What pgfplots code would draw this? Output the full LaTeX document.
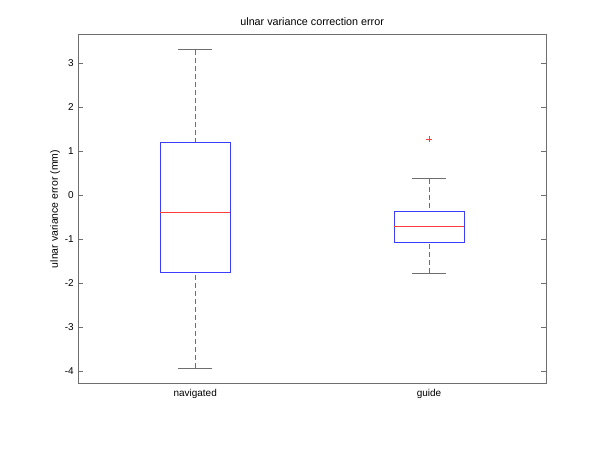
\documentclass[border=0pt]{standalone}
\usepackage{fontspec}
\setmainfont{Liberation Sans}
\usepackage{pgfplots}
\pgfplotsset{compat=1.18}
\usepgfplotslibrary{statistics}

\definecolor{framegray}{RGB}{110,110,110}
\definecolor{boxblue}{RGB}{60,60,255}
\definecolor{medred}{RGB}{255,60,60}

\pgfplotsset{
  mlbox/.style={
    solid, color=boxblue, line width=0.6bp,
    boxplot/draw direction=y,
    boxplot/every box/.style={draw=boxblue, solid, line width=0.6bp},
    boxplot/every median/.style={draw=medred, solid, line width=0.6bp},
    boxplot/every whisker/.style={draw=framegray, solid, line width=0.6bp},
    boxplot/box extend=0.3,
    boxplot/whisker extend=0.146,
    boxplot/draw/lower whisker/.code={
      \draw[framegray, line width=0.6bp, dash pattern=on 5bp off 3bp]
        (boxplot cs:\pgfplotsboxplotvalue{lower whisker},0) --
        (boxplot cs:\pgfplotsboxplotvalue{lower quartile},0);
      \draw[framegray, line width=0.6bp]
        (boxplot whisker cs:\pgfplotsboxplotvalue{lower whisker},0) --
        (boxplot whisker cs:\pgfplotsboxplotvalue{lower whisker},1);
    },
    boxplot/draw/upper whisker/.code={
      \draw[framegray, line width=0.6bp, dash pattern=on 5bp off 3bp]
        (boxplot cs:\pgfplotsboxplotvalue{upper whisker},0) --
        (boxplot cs:\pgfplotsboxplotvalue{upper quartile},0);
      \draw[framegray, line width=0.6bp]
        (boxplot whisker cs:\pgfplotsboxplotvalue{upper whisker},0) --
        (boxplot whisker cs:\pgfplotsboxplotvalue{upper whisker},1);
    },
  },
}

\begin{document}
\begin{tikzpicture}[font=\fontsize{10}{12}\selectfont]
\begin{axis}[
  scale only axis,
  width=467.7bp, height=349.4bp,
  xmin=0.5, xmax=2.5,
  ymin=-4.29, ymax=3.65,
  xtick={1,2}, xticklabels={navigated,guide},
  ytick={-4,-3,-2,-1,0,1,2,3},
  ytick pos=both,
  tick align=inside,
  major tick length=5bp,
  x tick style={draw=none},
  y tick style={framegray, line width=0.6bp},
  axis line style={framegray, line width=0.7bp},
  /pgf/number format/assume math mode=true,
  yticklabel style={xshift=-1bp},
  xticklabel style={yshift=-2bp},
  title={\fontsize{10.8}{12}\selectfont ulnar variance correction error},
  title style={yshift=-1bp},
  ylabel={\fontsize{10.5}{12}\selectfont ulnar variance error (mm)},
  ylabel style={yshift=-2bp},
]
\addplot[mlbox, boxplot prepared={draw position=1,
  median=-0.386, upper quartile=1.20, lower quartile=-1.75,
  upper whisker=3.30, lower whisker=-3.93}]
  coordinates {};
\addplot[mlbox, boxplot prepared={draw position=2,
  median=-0.71, upper quartile=-0.364, lower quartile=-1.07,
  upper whisker=0.37, lower whisker=-1.77}]
  coordinates {};
% outlier of the guide group (value 1.27), drawn as a red plus
\addplot[medred, line width=0.6bp] coordinates {(1.9855,1.27) (2.0145,1.27)};
\addplot[medred, line width=0.6bp] coordinates {(2,1.193) (2,1.347)};
\end{axis}
\path (current axis.south west) ++(-78.3bp,-66.3bp) rectangle ++(600bp,450bp);
\end{tikzpicture}
\end{document}
